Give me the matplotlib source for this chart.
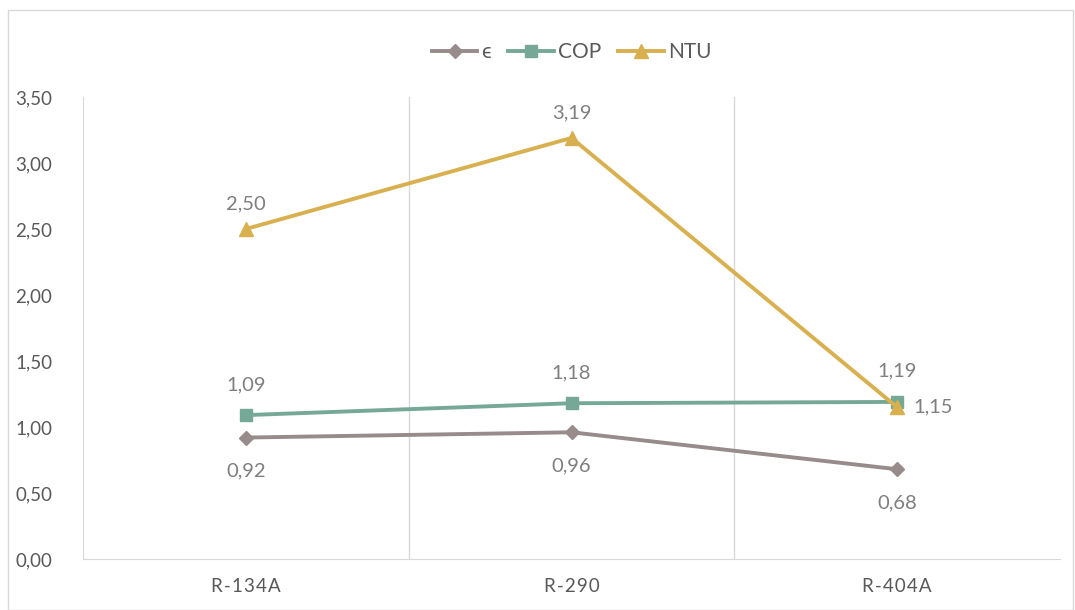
import matplotlib.pyplot as plt
from matplotlib.patches import Rectangle

categorias = ['R-134A', 'R-290', 'R-404A']
epsilon = [0.92, 0.96, 0.68]
cop = [1.09, 1.18, 1.19]
ntu = [2.50, 3.19, 1.15]

plt.rcParams['font.family'] = ['Lato', 'DejaVu Sans']

fig = plt.figure(figsize=(10.75, 6.10), dpi=100)
ax = fig.add_axes([83 / 1075, 1 - 559 / 610, 977 / 1075, 462 / 610])

x = range(len(categorias))
cor_eps = '#978B8B'
cor_cop = '#76A898'
cor_ntu = '#D8B04F'

ax.plot(x, epsilon, color=cor_eps, lw=2.8, marker='D', ms=7, label='ϵ')
ax.plot(x, cop, color=cor_cop, lw=2.8, marker='s', ms=9, label='COP')
ax.plot(x, ntu, color=cor_ntu, lw=2.8, marker='^', ms=10, label='NTU')

def fmt(v):
    return f'{v:.2f}'.replace('.', ',')

# rótulos dos pontos
cor_txt = '#7F7F7F'
for i, v in enumerate(epsilon):
    ax.annotate(fmt(v), (i, v), xytext=(0, -24), textcoords='offset points',
                ha='center', va='center', fontsize=14.5, color=cor_txt)
for i, v in enumerate(cop):
    ax.annotate(fmt(v), (i, v), xytext=(0, 22), textcoords='offset points',
                ha='center', va='center', fontsize=14.5, color=cor_txt)
for i, v in enumerate(ntu):
    if i == 2:
        ax.annotate(fmt(v), (i, v), xytext=(12, 0), textcoords='offset points',
                    ha='left', va='center', fontsize=14.5, color=cor_txt)
    else:
        ax.annotate(fmt(v), (i, v), xytext=(0, 18), textcoords='offset points',
                    ha='center', va='center', fontsize=14.5, color=cor_txt)

ax.set_xlim(-0.5, 2.5)
ax.set_ylim(0, 3.5)
ax.set_xticks(list(x))
ax.set_xticklabels(['\u200a'.join(c) for c in categorias])
ax.set_yticks([i * 0.5 for i in range(8)])
ax.set_yticklabels([fmt(i * 0.5) for i in range(8)])
ax.tick_params(axis='both', length=0, labelsize=13.5, colors='#595959')
ax.tick_params(axis='y', pad=22)
ax.tick_params(axis='x', pad=14)

for v in [0.5, 1.5]:
    ax.axvline(v, color='#D9D9D9', lw=1, zorder=0)
for s in ['top', 'right']:
    ax.spines[s].set_visible(False)
for s in ['left', 'bottom']:
    ax.spines[s].set_color('#D9D9D9')

ax.legend(loc='lower center', bbox_to_anchor=(0.5, 1.035), ncol=3, frameon=False,
          fontsize=15, handlelength=2.2, columnspacing=0.8, handletextpad=0.2,
          labelcolor='#595959')

fig.patches.append(Rectangle((8 / 1075, 0), 1 - 8 / 1075 - 2 / 1075, 1 - 10 / 610,
                             transform=fig.transFigure, fill=False,
                             edgecolor='#D9D9D9', lw=1))

plt.savefig('out.png')
